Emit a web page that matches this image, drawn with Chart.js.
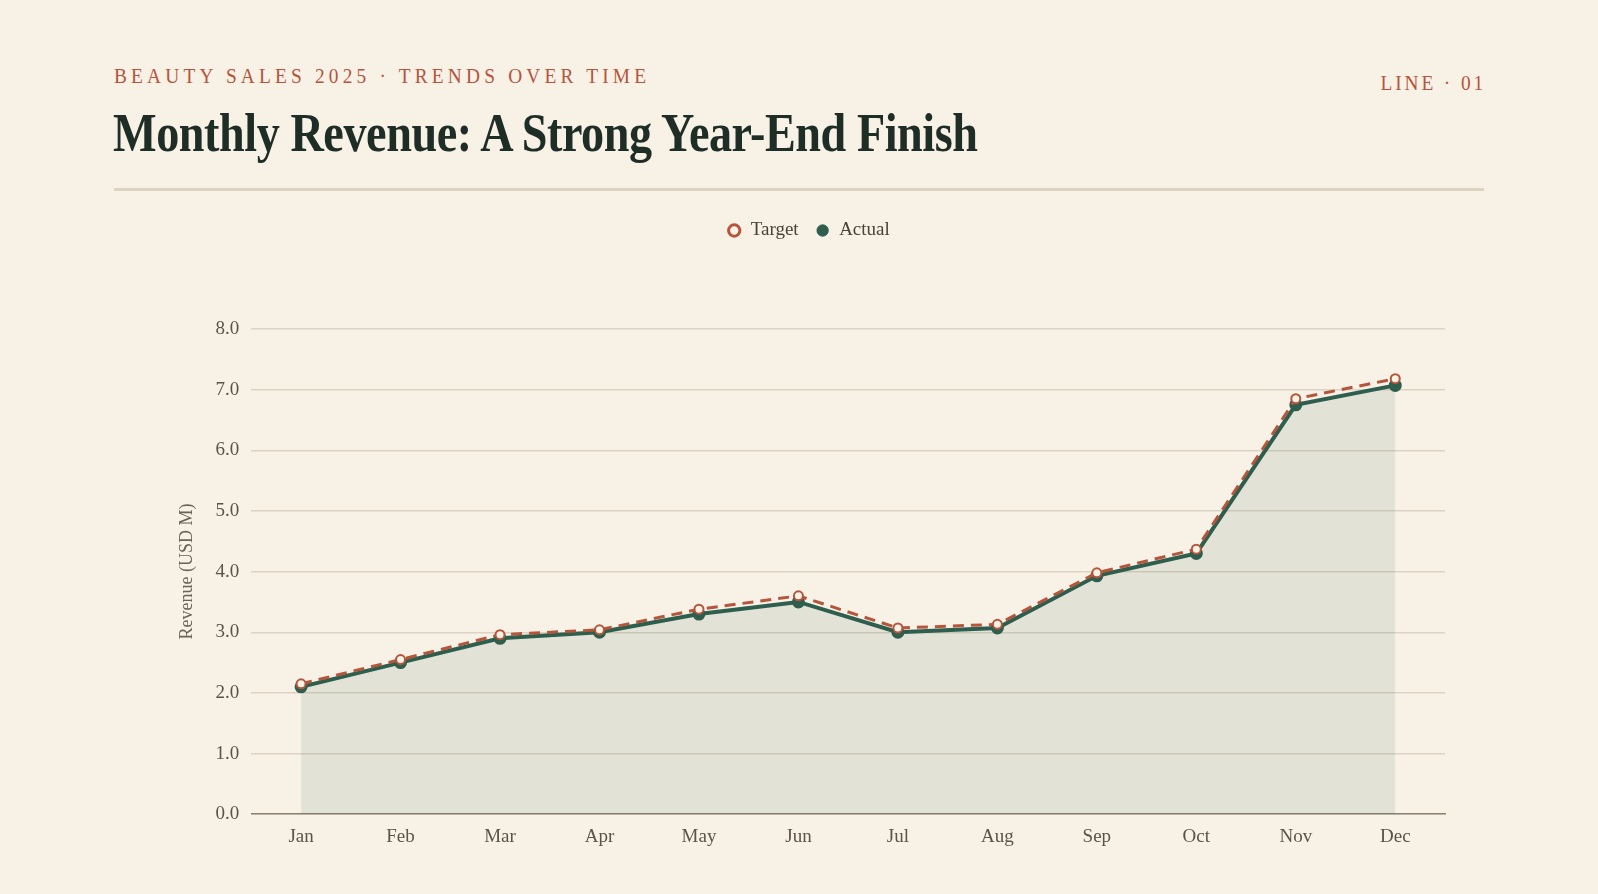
<!DOCTYPE html>
<html>
<head>
<meta charset="utf-8">
<script src="https://cdn.jsdelivr.net/npm/chart.js@4"></script>
<style>
    html, body { margin: 0; padding: 0; background: #f7f1e6; }
    body { width: 1598px; height: 894px; position: relative; overflow: hidden; font-family: "Liberation Serif", serif; }
    .kicker { position: absolute; left: 114px; top: 63px; font-size: 22px; letter-spacing: 4.75px; color: #b5553c; white-space: nowrap; transform: scaleX(0.88); transform-origin: left top; }
    .tag { position: absolute; right: 112px; top: 70px; font-size: 22px; letter-spacing: 3.3px; color: #b5553c; white-space: nowrap; transform: scaleX(0.88); transform-origin: right top; }
    h1 { position: absolute; left: 113px; top: 102px; margin: 0; font-size: 54px; font-weight: bold; color: #1f2d27; letter-spacing: -0.5px; white-space: nowrap; transform: scaleX(0.855); transform-origin: left top; }
    .rule { position: absolute; left: 114px; top: 188px; width: 1370px; height: 3px; background: #ddd3c1; }
    .chart-box { position: absolute; left: 114px; top: 204px; width: 1370px; height: 665px; }
</style>
</head>
<body>
<div class="kicker">BEAUTY SALES 2025 · TRENDS OVER TIME</div>
<div class="tag">LINE · 01</div>
<h1>Monthly Revenue: A Strong Year-End Finish</h1>
<div class="rule"></div>
<div class="chart-box"><canvas id="revenueChart"></canvas></div>

<script>
// Monthly revenue, USD millions
const months = ['Jan', 'Feb', 'Mar', 'Apr', 'May', 'Jun', 'Jul', 'Aug', 'Sep', 'Oct', 'Nov', 'Dec'];
const targetRevenue = [2.15, 2.55, 2.96, 3.04, 3.38, 3.6, 3.07, 3.13, 3.98, 4.37, 6.85, 7.18];
const actualRevenue = [2.1, 2.5, 2.9, 3.0, 3.3, 3.5, 3.0, 3.07, 3.93, 4.3, 6.75, 7.07];
const yTicks = [0, 1, 2, 3, 4, 5, 6, 7, 8];

const serif = '"Liberation Serif", serif';
const rust = '#b5553c';
const forest = '#2d5e4e';
const inkSoft = '#5b534a';
const gridColor = '#ddd3c2';
const paper = '#f7f1e6';

// push the plot down below the legend
const legendGap = {
    id: 'legendGap',
    beforeInit(chart) {
        const fit = chart.legend.fit;
        chart.legend.fit = function() {
            fit.bind(chart.legend)();
            this.height += 79;
        };
    }
};

const ctx = document.getElementById('revenueChart').getContext('2d');
new Chart(ctx, {
    type: 'line',
    data: {
        labels: months,
        datasets: [
            {
                label: 'Target',
                data: targetRevenue,
                borderColor: rust,
                backgroundColor: paper,
                borderWidth: 3,
                borderDash: [11, 7],
                pointRadius: 4.5,
                pointBorderWidth: 2,
                pointBackgroundColor: paper,
                pointBorderColor: rust,
                fill: false,
                tension: 0
            },
            {
                label: 'Actual',
                data: actualRevenue,
                borderColor: forest,
                backgroundColor: 'rgba(45, 94, 78, 0.1)',
                borderWidth: 4,
                pointRadius: 4.5,
                pointBackgroundColor: forest,
                pointBorderColor: forest,
                fill: 'origin',
                tension: 0
            }
        ]
    },
    options: {
        responsive: true,
        maintainAspectRatio: false,
        animation: false,
        layout: {
            padding: { left: 58, right: 39, top: 0, bottom: 10 }
        },
        plugins: {
            legend: {
                position: 'top',
                labels: {
                    color: '#4a4238',
                    font: { family: serif, size: 19 },
                    usePointStyle: true,
                    pointStyle: 'circle',
                    boxWidth: 14,
                    boxHeight: 8,
                    padding: 17,
                    generateLabels: function(chart) {
                        const items = Chart.defaults.plugins.legend.labels.generateLabels(chart);
                        items.forEach(item => {
                            if (item.datasetIndex === 0) {
                                item.lineWidth = 3;
                                item.fillStyle = paper;
                            } else {
                                item.fillStyle = forest;
                                item.lineWidth = 1;
                            }
                        });
                        return items;
                    }
                }
            },
            tooltip: { enabled: false }
        },
        scales: {
            y: {
                min: 0,
                max: 8,
                afterBuildTicks: function(axis) {
                    axis.ticks = yTicks.map(v => ({ value: v }));
                },
                ticks: {
                    color: inkSoft,
                    font: { family: serif, size: 19 },
                    padding: 12,
                    callback: function(value) {
                        return value.toFixed(1);
                    }
                },
                grid: { color: gridColor, lineWidth: 1.5, drawTicks: false },
                border: { display: false },
                title: {
                    display: true,
                    text: 'Revenue (USD M)',
                    color: '#6b6358',
                    font: { family: serif, size: 18 },
                    padding: { bottom: 6 }
                }
            },
            x: {
                offset: true,
                ticks: {
                    color: inkSoft,
                    font: { family: serif, size: 19 },
                    padding: 11
                },
                grid: { display: false, drawTicks: false },
                border: { display: true, color: '#8c8272', width: 1.5 }
            }
        }
    },
    plugins: [legendGap]
});
</script>
</body>
</html>
